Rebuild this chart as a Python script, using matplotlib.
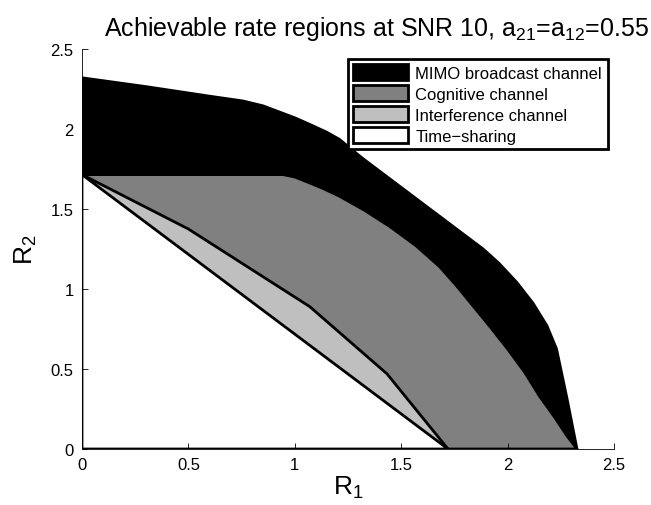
import matplotlib
matplotlib.use("Agg")
import matplotlib.pyplot as plt
from matplotlib.patches import Patch

plt.rcParams['font.family'] = ['Liberation Sans', 'DejaVu Sans']
plt.rcParams['mathtext.fontset'] = 'custom'
plt.rcParams['mathtext.rm'] = 'Liberation Sans'
plt.rcParams['mathtext.it'] = 'Liberation Sans'

# MIMO broadcast channel boundary
mimo_r1 = [0, 0.3, 0.6, 0.757, 0.85, 0.93, 1.0, 1.085, 1.15, 1.21, 1.26, 1.32, 1.6, 1.885,
           1.96, 2.044, 2.12, 2.185, 2.23, 2.28, 2.326]
mimo_r2 = [2.32, 2.265, 2.205, 2.175, 2.145, 2.105, 2.07, 2.02, 1.98, 1.935, 1.88, 1.815, 1.535, 1.25,
           1.16, 1.04, 0.91, 0.77, 0.625, 0.31, 0]
# Cognitive channel boundary
cog_r1 = [0, 0.945, 1.0, 1.057, 1.13, 1.21, 1.33, 1.447, 1.57, 1.68, 1.76, 1.84, 1.92, 2.0,
          2.08, 2.15, 2.22, 2.28, 2.326]
cog_r2 = [1.715, 1.715, 1.70, 1.67, 1.63, 1.58, 1.49, 1.39, 1.27, 1.14, 1.02, 0.89, 0.76, 0.625,
          0.48, 0.33, 0.2, 0.08, 0]
# Interference channel boundary
int_r1 = [0, 0.5, 1.07, 1.433, 1.72]
int_r2 = [1.715, 1.375, 0.89, 0.47, 0]
# Time-sharing boundary
ts_r1 = [0, 1.72]
ts_r2 = [1.715, 0]

labels = ['MIMO broadcast channel', 'Cognitive channel', 'Interference channel', 'Time\u2212sharing']
colors = ['#000000', '#808080', '#bfbfbf', '#ffffff']

fig = plt.figure(figsize=(6.51, 5.06), dpi=100)
ax = fig.add_axes([82/651, 56/506, 532/651, 400/506])

for r1, r2, c in zip([mimo_r1, cog_r1, int_r1, ts_r1], [mimo_r2, cog_r2, int_r2, ts_r2], colors):
    xs = [0] + list(r1) + [0]
    ys = [0] + list(r2) + [0]
    ax.fill(xs, ys, facecolor=c, edgecolor='black', linewidth=2, joinstyle='round')

ax.set_xlim(0, 2.5)
ax.set_ylim(0, 2.5)
ticks = [0, 0.5, 1, 1.5, 2, 2.5]
ticklabels = ['0', '0.5', '1', '1.5', '2', '2.5']
ax.set_xticks(ticks)
ax.set_xticklabels(ticklabels)
ax.set_yticks(ticks)
ax.set_yticklabels(ticklabels)
ax.tick_params(direction='in', length=4, width=0.6, labelsize=12, pad=6)
for s in ['top', 'right']:
    ax.spines[s].set_visible(False)
for s in ['left', 'bottom']:
    ax.spines[s].set_linewidth(0.6)

ax.set_xlabel('R$_1$', fontsize=19, labelpad=1)
ax.set_ylabel('R$_2$', fontsize=19, labelpad=8)
ax.set_title('Achievable rate regions at SNR 10, a$_{21}$=a$_{12}$=0.55', fontsize=18, x=0.553, pad=10)

handles = [Patch(facecolor=c, edgecolor='black', linewidth=2) for c in colors]
leg = ax.legend(handles, labels, loc='upper right', bbox_to_anchor=(0.988, 0.976), fontsize=12,
                frameon=True, fancybox=False, edgecolor='black', framealpha=1,
                handlelength=3.3, handleheight=1.1, handletextpad=0.4, labelspacing=0.25,
                borderpad=0.35, borderaxespad=0)
leg.get_frame().set_linewidth(2)

fig.savefig('out.png', dpi=100)
